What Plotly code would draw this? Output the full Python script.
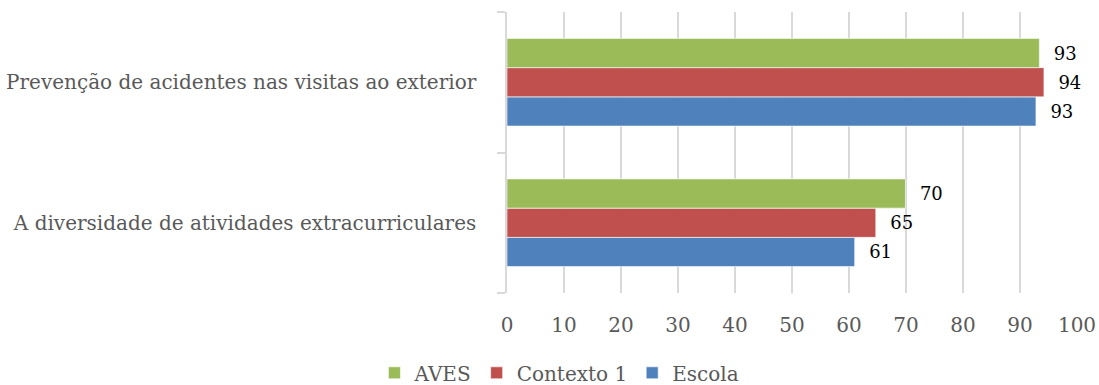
import plotly.graph_objects as go

categories = ["A diversidade de atividades extracurriculares",
              "Prevenção de acidentes nas visitas ao exterior"]
series_names = ["Escola", "Contexto 1", "AVES"]
escola = [61.0, 92.8]
contexto1 = [64.7, 94.2]
aves = [69.9, 93.4]
x_ticks = [0, 10, 20, 30, 40, 50, 60, 70, 80, 90, 100]

colors = {"Escola": "#4F81BD", "Contexto 1": "#C0504D", "AVES": "#9BBB59"}
values = {"Escola": escola, "Contexto 1": contexto1, "AVES": aves}

FONT = "DejaVu Serif"

fig = go.Figure()
for name in series_names:
    fig.add_trace(go.Bar(
        y=categories, x=values[name], name=name, orientation="h",
        marker=dict(color=colors[name], line=dict(color="white", width=0.6)),
        texttemplate="\u00a0\u00a0%{x:.0f}", textposition="outside",
        textfont=dict(family=FONT, size=18, color="#000000"),
        constraintext="none", cliponaxis=False,
        hoverinfo="skip",
    ))

fig.update_layout(
    width=1099, height=385,
    margin=dict(l=507, r=22, t=12, b=92, autoexpand=False),
    barmode="group", bargap=0.376, bargroupgap=0,
    plot_bgcolor="white", paper_bgcolor="white",
    font=dict(family=FONT, size=20, color="#595959"),
    showlegend=True,
    legend=dict(orientation="h", traceorder="reversed",
                x=0.092, xanchor="center", y=-0.284, yanchor="middle",
                font=dict(family=FONT, size=20, color="#595959"),
                itemwidth=30, tracegroupgap=0),
    xaxis=dict(range=[0, 100], tickvals=x_ticks, showgrid=True,
               gridcolor="#d9d9d9", gridwidth=1.5, zeroline=False,
               showline=False, ticks="", ticklabelstandoff=18,
               automargin=False,
               tickfont=dict(family=FONT, size=20, color="#595959"),
               fixedrange=True),
    yaxis=dict(type="category", showline=True, linecolor="#d9d9d9", linewidth=1.5,
               ticks="outside", tickson="boundaries", ticklen=8,
               tickcolor="#d9d9d9", tickwidth=1.5, ticklabelstandoff=25,
               showgrid=False, automargin=False,
               tickfont=dict(family=FONT, size=20, color="#595959"),
               fixedrange=True),
)

fig.write_html("out.html", config={"displayModeBar": False},
               post_script="document.body.style.margin='0';document.body.style.overflow='hidden';")
